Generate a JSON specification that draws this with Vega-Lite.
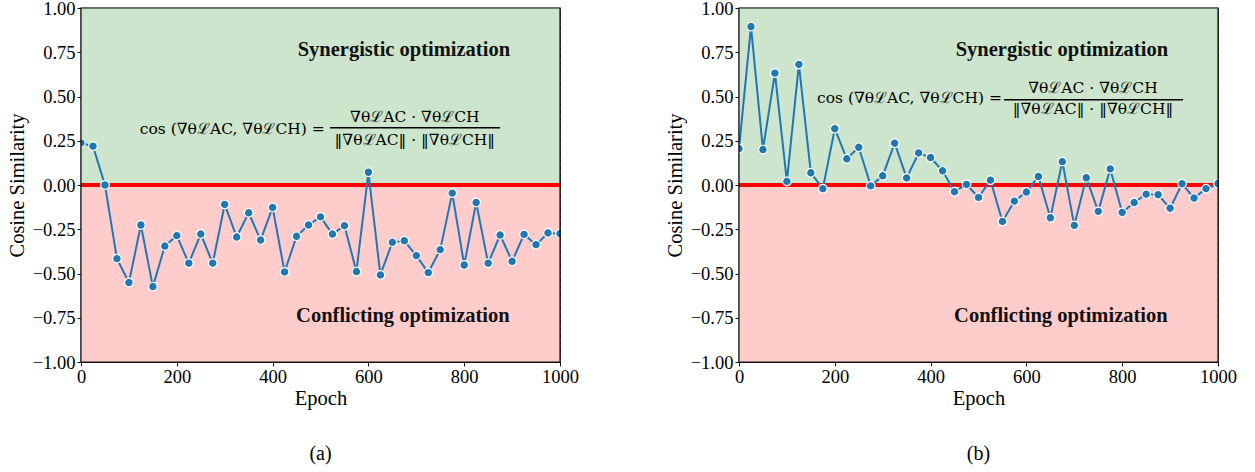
{
  "$schema": "https://vega.github.io/schema/vega-lite/v6.json",
  "background": "white",
  "padding": {"left": 6, "top": -2, "right": 0, "bottom": 0},
  "spacing": 84,
  "datasets": {
    "bands": [
      {"x0": 0, "x1": 1000, "lo": 0, "hi": 1, "c": "g"},
      {"x0": 0, "x1": 1000, "lo": -1, "hi": 0, "c": "r"}
    ],
    "frame": [{"x0": 0, "x1": 1000, "lo": -1, "hi": 1}],
    "zero": [{"z": 0}],
    "a": [
      {"epoch": 0, "cos": 0.238}, {"epoch": 25, "cos": 0.219}, {"epoch": 50, "cos": 0.0}, {"epoch": 75, "cos": -0.416},
      {"epoch": 100, "cos": -0.551}, {"epoch": 125, "cos": -0.226}, {"epoch": 150, "cos": -0.574}, {"epoch": 175, "cos": -0.345},
      {"epoch": 200, "cos": -0.286}, {"epoch": 225, "cos": -0.442}, {"epoch": 250, "cos": -0.277}, {"epoch": 275, "cos": -0.442},
      {"epoch": 300, "cos": -0.11}, {"epoch": 325, "cos": -0.294}, {"epoch": 350, "cos": -0.157}, {"epoch": 375, "cos": -0.311},
      {"epoch": 400, "cos": -0.127}, {"epoch": 425, "cos": -0.491}, {"epoch": 450, "cos": -0.29}, {"epoch": 475, "cos": -0.226},
      {"epoch": 500, "cos": -0.18}, {"epoch": 525, "cos": -0.277}, {"epoch": 550, "cos": -0.23}, {"epoch": 575, "cos": -0.489},
      {"epoch": 600, "cos": 0.072}, {"epoch": 625, "cos": -0.508}, {"epoch": 650, "cos": -0.324}, {"epoch": 675, "cos": -0.315},
      {"epoch": 700, "cos": -0.399}, {"epoch": 725, "cos": -0.495}, {"epoch": 750, "cos": -0.365}, {"epoch": 775, "cos": -0.046},
      {"epoch": 800, "cos": -0.452}, {"epoch": 825, "cos": -0.099}, {"epoch": 850, "cos": -0.442}, {"epoch": 875, "cos": -0.283},
      {"epoch": 900, "cos": -0.431}, {"epoch": 925, "cos": -0.279}, {"epoch": 950, "cos": -0.337}, {"epoch": 975, "cos": -0.271},
      {"epoch": 1000, "cos": -0.275}
    ],
    "b": [
      {"epoch": 0, "cos": 0.206}, {"epoch": 25, "cos": 0.895}, {"epoch": 50, "cos": 0.2}, {"epoch": 75, "cos": 0.632},
      {"epoch": 100, "cos": 0.02}, {"epoch": 125, "cos": 0.681}, {"epoch": 150, "cos": 0.069}, {"epoch": 175, "cos": -0.021},
      {"epoch": 200, "cos": 0.318}, {"epoch": 225, "cos": 0.148}, {"epoch": 250, "cos": 0.213}, {"epoch": 275, "cos": -0.005},
      {"epoch": 300, "cos": 0.052}, {"epoch": 325, "cos": 0.236}, {"epoch": 350, "cos": 0.04}, {"epoch": 375, "cos": 0.181},
      {"epoch": 400, "cos": 0.155}, {"epoch": 425, "cos": 0.08}, {"epoch": 450, "cos": -0.038}, {"epoch": 475, "cos": 0.003},
      {"epoch": 500, "cos": -0.07}, {"epoch": 525, "cos": 0.027}, {"epoch": 550, "cos": -0.206}, {"epoch": 575, "cos": -0.091},
      {"epoch": 600, "cos": -0.04}, {"epoch": 625, "cos": 0.048}, {"epoch": 650, "cos": -0.185}, {"epoch": 675, "cos": 0.132},
      {"epoch": 700, "cos": -0.228}, {"epoch": 725, "cos": 0.041}, {"epoch": 750, "cos": -0.149}, {"epoch": 775, "cos": 0.091},
      {"epoch": 800, "cos": -0.155}, {"epoch": 825, "cos": -0.099}, {"epoch": 850, "cos": -0.052}, {"epoch": 875, "cos": -0.055},
      {"epoch": 900, "cos": -0.131}, {"epoch": 925, "cos": 0.007}, {"epoch": 950, "cos": -0.074}, {"epoch": 975, "cos": -0.021},
      {"epoch": 1000, "cos": 0.008}
    ],
    "labels": [
      {"x": 674, "y": 0.763, "t": "Synergistic optimization"},
      {"x": 672, "y": -0.741, "t": "Conflicting optimization"}
    ],
    "fa_lhs": [{"x": 509, "y": 0.318, "t": "cos (∇θℒAC, ∇θℒCH) ="}],
    "fa_frac": [
      {"x": 697, "y": 0.385, "t": "∇θℒAC · ∇θℒCH"},
      {"x": 697, "y": 0.256, "t": "‖∇θℒAC‖ · ‖∇θℒCH‖"}
    ],
    "fa_bar": [{"x": 520, "x2": 875, "y": 0.324}],
    "fb_lhs": [{"x": 549, "y": 0.493, "t": "cos (∇θℒAC, ∇θℒCH) ="}],
    "fb_frac": [
      {"x": 739, "y": 0.549, "t": "∇θℒAC · ∇θℒCH"},
      {"x": 739, "y": 0.43, "t": "‖∇θℒAC‖ · ‖∇θℒCH‖"}
    ],
    "fb_bar": [{"x": 553, "x2": 927, "y": 0.482}]
  },
  "hconcat": [
    {
      "width": 479,
      "height": 354,
      "title": {"text": "(a)", "orient": "bottom", "offset": 35, "fontSize": 20, "font": "Liberation Serif", "fontWeight": "normal", "color": "#000"},
      "layer": [
        {
          "data": {"name": "bands"},
          "mark": {"type": "rect"},
          "encoding": {
            "x": {"field": "x0", "type": "quantitative", "scale": {"domain": [0, 1000], "nice": false, "zero": false}, "title": "Epoch", "axis": {"values": [0, 200, 400, 600, 800, 1000], "format": "d"}},
            "x2": {"field": "x1"},
            "y": {"field": "lo", "type": "quantitative", "scale": {"domain": [-1, 1], "nice": false}, "title": "Cosine Similarity", "axis": {"values": [-1, -0.75, -0.5, -0.25, 0, 0.25, 0.5, 0.75, 1], "format": ".2f"}},
            "y2": {"field": "hi"},
            "color": {"field": "c", "type": "nominal", "scale": {"domain": ["g", "r"], "range": ["#cce5cc", "#ffcccc"]}, "legend": null}
          }
        },
        {
          "data": {"name": "zero"},
          "mark": {"type": "rule", "color": "#ff0000", "strokeWidth": 4},
          "encoding": {"y": {"field": "z", "type": "quantitative", "title": "Cosine Similarity"}}
        },
        {
          "data": {"name": "a"},
          "mark": {"type": "line", "color": "#1f77b4", "strokeWidth": 2, "clip": true, "point": {"filled": true, "size": 75, "color": "#1f77b4", "stroke": "white", "strokeWidth": 1.2, "clip": true}},
          "encoding": {
            "x": {"field": "epoch", "type": "quantitative", "title": "Epoch"},
            "y": {"field": "cos", "type": "quantitative", "title": "Cosine Similarity"}
          }
        },
        {
          "data": {"name": "labels"},
          "mark": {"type": "text", "font": "Liberation Serif", "fontWeight": "bold", "fontSize": 20.5, "align": "center", "baseline": "middle", "color": "#111"},
          "encoding": {
            "x": {"field": "x", "type": "quantitative", "title": "Epoch"},
            "y": {"field": "y", "type": "quantitative", "title": "Cosine Similarity"},
            "text": {"field": "t"}
          }
        },
        {
          "data": {"name": "fa_lhs"},
          "mark": {"type": "text", "font": "DejaVu Serif", "fontSize": 15.5, "align": "right", "baseline": "middle", "color": "#000"},
          "encoding": {
            "x": {"field": "x", "type": "quantitative", "title": "Epoch"},
            "y": {"field": "y", "type": "quantitative", "title": "Cosine Similarity"},
            "text": {"field": "t"}
          }
        },
        {
          "data": {"name": "fa_frac"},
          "mark": {"type": "text", "font": "DejaVu Serif", "fontSize": 15.5, "align": "center", "baseline": "middle", "color": "#000"},
          "encoding": {
            "x": {"field": "x", "type": "quantitative", "title": "Epoch"},
            "y": {"field": "y", "type": "quantitative", "title": "Cosine Similarity"},
            "text": {"field": "t"}
          }
        },
        {
          "data": {"name": "fa_bar"},
          "mark": {"type": "rule", "color": "#000", "strokeWidth": 1.5},
          "encoding": {
            "x": {"field": "x", "type": "quantitative", "title": "Epoch"},
            "x2": {"field": "x2"},
            "y": {"field": "y", "type": "quantitative", "title": "Cosine Similarity"}
          }
        },
        {
          "data": {"name": "frame"},
          "mark": {"type": "rect", "fill": null, "fillOpacity": 0, "stroke": "#111", "strokeWidth": 1.2},
          "encoding": {
            "x": {"field": "x0", "type": "quantitative", "title": "Epoch"},
            "x2": {"field": "x1"},
            "y": {"field": "lo", "type": "quantitative", "title": "Cosine Similarity"},
            "y2": {"field": "hi"}
          }
        }
      ]
    },
    {
      "width": 479,
      "height": 354,
      "title": {"text": "(b)", "orient": "bottom", "offset": 35, "fontSize": 20, "font": "Liberation Serif", "fontWeight": "normal", "color": "#000"},
      "layer": [
        {
          "data": {"name": "bands"},
          "mark": {"type": "rect"},
          "encoding": {
            "x": {"field": "x0", "type": "quantitative", "scale": {"domain": [0, 1000], "nice": false, "zero": false}, "title": "Epoch", "axis": {"values": [0, 200, 400, 600, 800, 1000], "format": "d"}},
            "x2": {"field": "x1"},
            "y": {"field": "lo", "type": "quantitative", "scale": {"domain": [-1, 1], "nice": false}, "title": "Cosine Similarity", "axis": {"values": [-1, -0.75, -0.5, -0.25, 0, 0.25, 0.5, 0.75, 1], "format": ".2f"}},
            "y2": {"field": "hi"},
            "color": {"field": "c", "type": "nominal", "scale": {"domain": ["g", "r"], "range": ["#cce5cc", "#ffcccc"]}, "legend": null}
          }
        },
        {
          "data": {"name": "zero"},
          "mark": {"type": "rule", "color": "#ff0000", "strokeWidth": 4},
          "encoding": {"y": {"field": "z", "type": "quantitative", "title": "Cosine Similarity"}}
        },
        {
          "data": {"name": "b"},
          "mark": {"type": "line", "color": "#1f77b4", "strokeWidth": 2, "clip": true, "point": {"filled": true, "size": 75, "color": "#1f77b4", "stroke": "white", "strokeWidth": 1.2, "clip": true}},
          "encoding": {
            "x": {"field": "epoch", "type": "quantitative", "title": "Epoch"},
            "y": {"field": "cos", "type": "quantitative", "title": "Cosine Similarity"}
          }
        },
        {
          "data": {"name": "labels"},
          "mark": {"type": "text", "font": "Liberation Serif", "fontWeight": "bold", "fontSize": 20.5, "align": "center", "baseline": "middle", "color": "#111"},
          "encoding": {
            "x": {"field": "x", "type": "quantitative", "title": "Epoch"},
            "y": {"field": "y", "type": "quantitative", "title": "Cosine Similarity"},
            "text": {"field": "t"}
          }
        },
        {
          "data": {"name": "fb_lhs"},
          "mark": {"type": "text", "font": "DejaVu Serif", "fontSize": 15.5, "align": "right", "baseline": "middle", "color": "#000"},
          "encoding": {
            "x": {"field": "x", "type": "quantitative", "title": "Epoch"},
            "y": {"field": "y", "type": "quantitative", "title": "Cosine Similarity"},
            "text": {"field": "t"}
          }
        },
        {
          "data": {"name": "fb_frac"},
          "mark": {"type": "text", "font": "DejaVu Serif", "fontSize": 15.5, "align": "center", "baseline": "middle", "color": "#000"},
          "encoding": {
            "x": {"field": "x", "type": "quantitative", "title": "Epoch"},
            "y": {"field": "y", "type": "quantitative", "title": "Cosine Similarity"},
            "text": {"field": "t"}
          }
        },
        {
          "data": {"name": "fb_bar"},
          "mark": {"type": "rule", "color": "#000", "strokeWidth": 1.5},
          "encoding": {
            "x": {"field": "x", "type": "quantitative", "title": "Epoch"},
            "x2": {"field": "x2"},
            "y": {"field": "y", "type": "quantitative", "title": "Cosine Similarity"}
          }
        },
        {
          "data": {"name": "frame"},
          "mark": {"type": "rect", "fill": null, "fillOpacity": 0, "stroke": "#111", "strokeWidth": 1.2},
          "encoding": {
            "x": {"field": "x0", "type": "quantitative", "title": "Epoch"},
            "x2": {"field": "x1"},
            "y": {"field": "lo", "type": "quantitative", "title": "Cosine Similarity"},
            "y2": {"field": "hi"}
          }
        }
      ]
    }
  ],
  "config": {
    "font": "Liberation Serif",
    "view": {"stroke": "#111", "strokeWidth": 1.2},
    "axis": {
      "labelFont": "Liberation Serif",
      "labelFontSize": 18.5,
      "labelColor": "#000",
      "titleFont": "Liberation Serif",
      "titleFontSize": 20.5,
      "titleFontWeight": "normal",
      "titleColor": "#000",
      "domainColor": "#111",
      "domainWidth": 1.2,
      "tickColor": "#111",
      "tickSize": 4,
      "grid": true,
      "gridColor": "#aaaaaa",
      "gridDash": [4, 3],
      "gridOpacity": 0.5,
      "gridWidth": 0.8
    },
    "axisY": {"labelPadding": 2, "minExtent": 47, "maxExtent": 47, "titlePadding": 7},
    "axisX": {"labelPadding": 1, "titlePadding": 3, "labelFlush": false}
  }
}
